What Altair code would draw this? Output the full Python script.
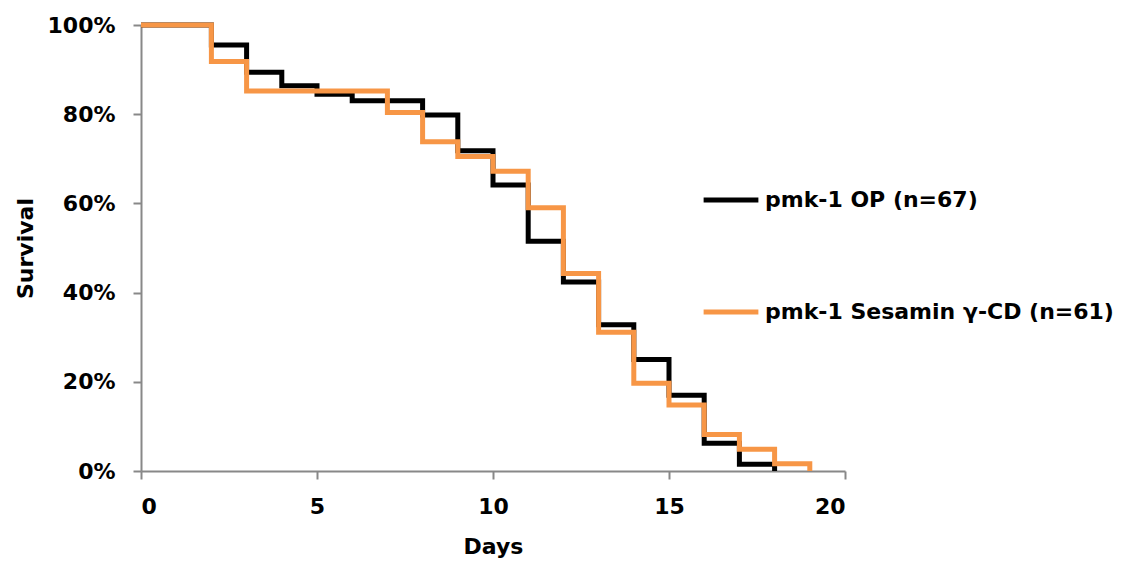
import altair as alt
import pandas as pd

series_op = "pmk-1 OP (n=67)"
series_ses = "pmk-1 Sesamin γ-CD (n=61)"

days_op = [0, 2, 3, 4, 5, 6, 8, 9, 10, 11, 12, 13, 14, 15, 16, 17, 18]
surv_op = [100, 95.5, 89.4, 86.4, 84.5, 83.0, 79.8, 71.8, 64.1, 51.5, 42.4, 32.8, 25.0, 17.0, 6.2, 1.5, 0]

days_ses = [0, 2, 3, 7, 8, 9, 10, 11, 12, 13, 14, 15, 16, 17, 18, 19]
surv_ses = [100, 91.8, 85.2, 80.4, 73.8, 70.5, 67.2, 59.0, 44.3, 31.1, 19.7, 14.8, 8.2, 4.9, 1.6, 0]

rows = []
for d, s in zip(days_op, surv_op):
    rows.append({"Days": d, "Survival": s / 100, "Group": series_op})
for d, s in zip(days_ses, surv_ses):
    rows.append({"Days": d, "Survival": s / 100, "Group": series_ses})
df = pd.DataFrame(rows)

FONT = "DejaVu Sans"

chart = alt.Chart(df).mark_line(interpolate="step-after", strokeWidth=5, strokeJoin="miter").encode(
    x=alt.X("Days:Q", scale=alt.Scale(domain=[0, 20], nice=False),
            axis=alt.Axis(values=[0, 5, 10, 15, 20], title="Days")),
    y=alt.Y("Survival:Q", scale=alt.Scale(domain=[0, 1], nice=False),
            axis=alt.Axis(values=[0, 0.2, 0.4, 0.6, 0.8, 1.0], format=".0%", title="Survival")),
    color=alt.Color("Group:N",
                    scale=alt.Scale(domain=[series_op, series_ses], range=["#000000", "#F79646"]),
                    legend=alt.Legend(title=None, orient="none", legendX=560, legendY=145,
                                      symbolType="stroke", symbolSize=3000, symbolStrokeWidth=5,
                                      labelFontSize=22, labelFont=FONT, labelFontWeight="bold",
                                      labelColor="#000000", rowPadding=71, labelOffset=4,
                                      labelLimit=500)),
    order=alt.Order("Days:Q"),
).properties(
    width=704, height=446,
    padding={"left": 133, "top": 17, "right": 280, "bottom": 93},
    autosize=alt.AutoSizeParams(type="none"),
).configure_view(stroke=None).configure_axis(
    grid=False,
    domainColor="#888888", domainWidth=2,
    tickColor="#888888", tickWidth=2, tickSize=8,
    labelFont=FONT, labelFontSize=22, labelFontWeight="bold", labelColor="#000000",
    titleFont=FONT, titleFontSize=22, titleFontWeight="bold", titleColor="#000000",
).configure_axisX(labelPadding=17, titlePadding=19).configure_axisY(labelPadding=18, titlePadding=10)

chart.save("out.html", embed_options={"renderer": "svg", "actions": False})
